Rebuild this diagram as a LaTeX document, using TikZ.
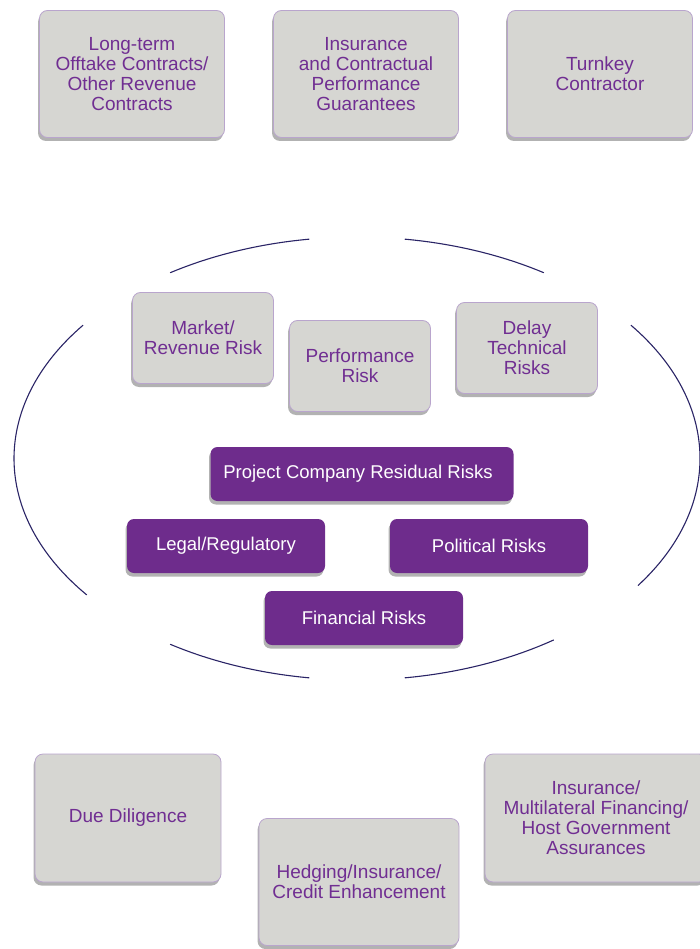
\documentclass[tikz,border=0pt]{standalone}
\usepackage{fontspec}
\setmainfont{Liberation Sans}
\usetikzlibrary{calc,shadows}
\definecolor{boxgray}{RGB}{214,214,210}
\definecolor{boxedge}{RGB}{185,165,205}
\definecolor{txtpurple}{RGB}{112,46,146}
\definecolor{riskpurple}{RGB}{110,44,140}
\definecolor{arcnavy}{RGB}{42,36,102}
\tikzset{
  shade/.style={drop shadow={shadow xshift=-1.5pt,shadow yshift=-3.5pt,fill=black,opacity=0.3}},
  mitigant/.style={shade, draw=boxedge, line width=0.8pt, fill=boxgray, rounded corners=8pt,
    text=txtpurple, align=center, font=\fontsize{19}{20}\selectfont, inner sep=0pt},
  residual/.style={shade, fill=riskpurple, rounded corners=7pt, text=white, align=center,
    font=\fontsize{18.5}{20}\selectfont, inner sep=0pt, minimum height=54pt},
  ring/.style={arcnavy, line width=1.1pt}
}
\begin{document}
\begin{tikzpicture}[x=1pt, y=1pt]
  \useasboundingbox (0,0) rectangle (700,-949);
  % top row
  \node [mitigant, minimum width=185pt, minimum height=127pt] (offtake) at (132,-74)
    {Long-term\\Offtake Contracts/\\Other Revenue\\Contracts};
  \node [mitigant, minimum width=185pt, minimum height=127pt] (guarantee) at (366,-74)
    {Insurance\\and Contractual\\Performance\\Guarantees};
  \node [mitigant, minimum width=185pt, minimum height=127pt] (turnkey) at (600,-74)
    {Turnkey\\Contractor};
  % the ring
  \coordinate (C) at (357,-458.5);
  \foreach \a/\b in {98/123, 143/218, 237/262, 278/305, 325/397, 57/82}
    \draw [ring] ($(C)+(\a:343 and 221.5)$) arc[start angle=\a, end angle=\b, x radius=343, y radius=221.5];
  % risks inside the ring
  \node [mitigant, minimum width=141pt, minimum height=91pt] (market) at (203,-338)
    {Market/\\Revenue Risk};
  \node [mitigant, minimum width=141pt, minimum height=91pt] (performance) at (360,-366)
    {Performance\\Risk};
  \node [mitigant, minimum width=141pt, minimum height=91pt] (delay) at (527,-348)
    {Delay\\Technical\\Risks};
  \node [residual, minimum width=303pt] (project) at (362,-474) {Project Company Residual Risks\kern8pt};
  \node [residual, minimum width=198pt] (legal) at (226,-546) {Legal/Regulatory};
  \node [residual, minimum width=198pt] (political) at (489,-546) {Political Risks};
  \node [residual, minimum width=198pt] (financial) at (364,-618) {Financial Risks};
  % bottom row
  \node [mitigant, minimum width=186pt, minimum height=128pt] (diligence) at (128,-818)
    {Due Diligence};
  \node [mitigant, minimum width=200pt, minimum height=127pt] (hedging) at (359,-882)
    {Hedging/Insurance/\\Credit Enhancement};
  \node [mitigant, minimum width=222pt, minimum height=128pt] (assurance) at (596,-818)
    {Insurance/\\Multilateral Financing/\\Host Government\\Assurances};
\end{tikzpicture}
\end{document}
